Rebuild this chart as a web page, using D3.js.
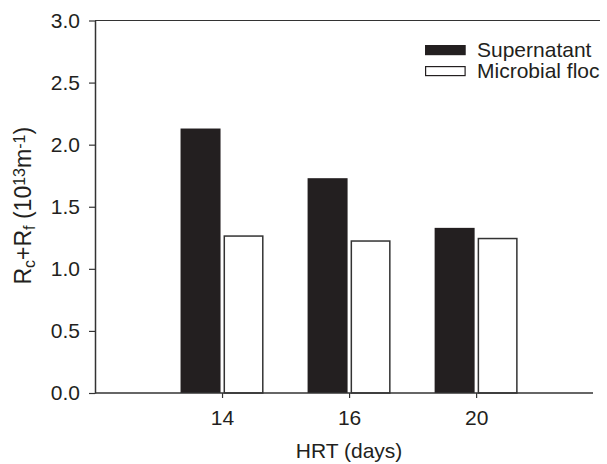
<!DOCTYPE html>
<html>
<head>
<meta charset="utf-8">
<script src="https://cdn.jsdelivr.net/npm/d3@7"></script>
<style>
  body { margin: 0; background: #fff; }
  svg { display: block; font-family: "Liberation Sans", Arial, sans-serif; }
</style>
</head>
<body>
<div id="app"></div>
<script>
// Data
const hrt = ['14', '16', '20'];
const supernatant = [2.13, 1.73, 1.33];
const microbialFloc = [1.27, 1.23, 1.25];
const seriesNames = ['Supernatant', 'Microbial floc'];
const yTicks = [0, 0.5, 1.0, 1.5, 2.0, 2.5, 3.0];

// Constants
const width = 607;
const height = 464;
const margin = ({ top: 20.5, right: 7, bottom: 71, left: 95 });
const plotWidth = width - margin.left - margin.right;
const plotHeight = height - margin.top - margin.bottom;
const ink = '#231f20';
const fontSize = 21;

const svg = d3.select('#app')
  .append('svg')
  .attr('width', width)
  .attr('height', height);

const plot = svg.append('g')
  .attr('transform', `translate(${margin.left}, ${margin.top})`);

// Scales: categories sit at positions 1, 2, 3
const xScale = d3.scaleLinear()
  .domain([0, 3.92])
  .range([0, plotWidth - 7]);
const yScale = d3.scaleLinear()
  .domain([0, 3])
  .range([plotHeight, 0]);

const barW = 40;
const gap = 1.5;

// Bars
plot.append('g')
  .selectAll('rect')
  .data(supernatant)
  .join('rect')
  .attr('x', (d, i) => xScale(i + 1) - gap - barW)
  .attr('y', (d) => yScale(d))
  .attr('width', barW)
  .attr('height', (d) => yScale(0) - yScale(d))
  .attr('fill', ink);

plot.append('g')
  .selectAll('rect')
  .data(microbialFloc)
  .join('rect')
  .attr('x', (d, i) => xScale(i + 1) + gap + 0.75)
  .attr('y', (d) => yScale(d) + 0.75)
  .attr('width', barW - 1.5)
  .attr('height', (d) => yScale(0) - yScale(d) - 0.75)
  .attr('fill', '#fff')
  .attr('stroke', '#333')
  .attr('stroke-width', 1.5);

// Axes
const yAxis = d3.axisLeft(yScale)
  .tickValues(yTicks)
  .tickFormat(d3.format('.1f'))
  .tickSize(6)
  .tickSizeOuter(0)
  .tickPadding(9);
const gy = plot.append('g').call(yAxis);

const xAxis = d3.axisBottom(xScale)
  .tickValues([1, 2, 3])
  .tickFormat((d) => hrt[d - 1])
  .tickSize(5)
  .tickSizeOuter(0)
  .tickPadding(12);
const gx = plot.append('g')
  .attr('transform', `translate(0, ${plotHeight})`)
  .call(xAxis);
gx.select('.domain').attr('d', `M0,0H${plotWidth - 7}`);

[gx, gy].forEach((g) => {
  g.select('.domain').attr('stroke', '#333').attr('stroke-width', 1.5);
  g.selectAll('.tick line').attr('stroke', '#333').attr('stroke-width', 1.2);
  g.selectAll('.tick text')
    .attr('fill', ink)
    .style('font-size', `${fontSize}px`)
    .style('font-family', '"Liberation Sans", Arial, sans-serif');
});

// Top frame line
plot.append('line')
  .attr('x1', 0)
  .attr('x2', plotWidth)
  .attr('y1', 0)
  .attr('y2', 0)
  .attr('stroke', '#333')
  .attr('stroke-width', 1.2);

// Labels
svg.append('text')
  .attr('x', margin.left + xScale(2))
  .attr('y', 458)
  .attr('text-anchor', 'middle')
  .attr('fill', ink)
  .style('font-size', `${fontSize}px`)
  .text('HRT (days)');

const yLabel = svg.append('text')
  .attr('transform', `translate(31, ${margin.top + plotHeight / 2 - 1}) rotate(-90)`)
  .attr('text-anchor', 'middle')
  .attr('fill', ink)
  .style('font-size', '23px');
const sub = '16px';
yLabel.append('tspan').text('R');
yLabel.append('tspan').attr('baseline-shift', '-25%').style('font-size', sub).text('c');
yLabel.append('tspan').text('+R');
yLabel.append('tspan').attr('baseline-shift', '-25%').style('font-size', sub).text('f');
yLabel.append('tspan').text(' (10');
yLabel.append('tspan').attr('baseline-shift', '40%').style('font-size', sub).text('13');
yLabel.append('tspan').text('m');
yLabel.append('tspan').attr('baseline-shift', '40%').style('font-size', sub).text('-1');
yLabel.append('tspan').text(')');

// Key
const key = svg.append('g')
  .attr('transform', 'translate(425, 45)');
key.selectAll('rect')
  .data(seriesNames)
  .join('rect')
  .attr('x', 0.6)
  .attr('y', (d, i) => i * 21 + 0.6)
  .attr('width', 39.5)
  .attr('height', 9)
  .attr('fill', (d, i) => (i === 0 ? ink : '#fff'))
  .attr('stroke', ink)
  .attr('stroke-width', 1.2);
key.selectAll('text')
  .data(seriesNames)
  .join('text')
  .attr('x', 52)
  .attr('y', (d, i) => 12 + i * 21)
  .attr('fill', ink)
  .style('font-size', `${fontSize}px`)
  .text((d) => d);
</script>
</body>
</html>
